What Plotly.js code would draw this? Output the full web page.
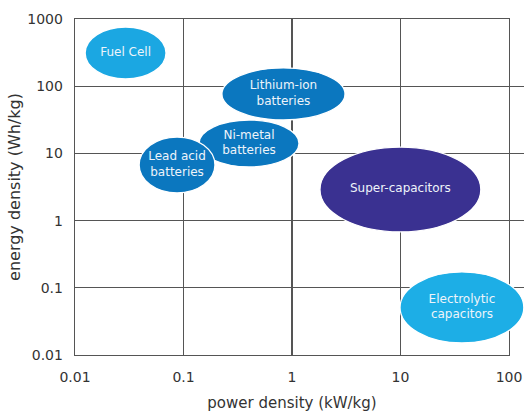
<!DOCTYPE html>
<html>
<head>
<meta charset="utf-8">
<script src="https://cdn.plot.ly/plotly-3.0.1.min.js"></script>
<style>html,body{margin:0;padding:0;background:#fff;}#chart{width:524px;height:415px;}</style>
</head>
<body>
<div id="chart"></div>
<script>
// Technologies (drawn in this order: later ones on top)
var technologies = ["Lithium-ion<br>batteries", "Ni-metal<br>batteries", "Lead acid<br>batteries", "Fuel Cell", "Super-capacitors", "Electrolytic<br>capacitors"];
// power density range (kW/kg)
var powerMin = [0.226, 0.139, 0.039, 0.0124, 1.81, 9.9];
var powerMax = [3.08, 1.16, 0.195, 0.069, 55, 137];
// energy density range (Wh/kg)
var energyMin = [31.4, 6.3, 2.58, 128, 0.68, 0.0151];
var energyMax = [187, 31.4, 17.5, 760, 12.4, 0.172];
var fillColors = ["#0b77bf", "#0b77bf", "#0b77bf", "#1ba7e2", "#3a3191", "#1daee6"];

var xTickVals = [0.01, 0.1, 1, 10, 100];
var xTickText = ["0.01", "0.1", "1", "10", "100"];
var yTickVals = [0.01, 0.1, 1, 10, 100, 1000];
var yTickText = ["0.01", "0.1", "1", "10", "100", "1000"];

var W = 524, H = 415;
var mL = 75, mR = 0, mT = 19, mB = 60;
var frameRight = 509; // right edge of framed grid in px
var xDomainEnd = (frameRight - mL) / (W - mL - mR);
var xRange2End = -2 + 4 / xDomainEnd;

var shapes = technologies.map(function (t, i) {
  return {
    type: "circle", xref: "x2", yref: "y", layer: "between",
    x0: powerMin[i], x1: powerMax[i], y0: energyMin[i], y1: energyMax[i],
    fillcolor: fillColors[i], line: {color: "#ffffff", width: 1.3}
  };
});

var labelX = technologies.map(function (t, i) { return Math.sqrt(powerMin[i] * powerMax[i]); });
var labelY = technologies.map(function (t, i) { return Math.sqrt(energyMin[i] * energyMax[i]); });

var data = [
  {type: "scatter", x: [], y: [], xaxis: "x", yaxis: "y", showlegend: false, hoverinfo: "skip"},
  {type: "scatter", mode: "text", x: labelX, y: labelY, text: technologies, xaxis: "x2", yaxis: "y",
   textposition: "middle center", cliponaxis: false,
   textfont: {family: "DejaVu Sans", size: 12, color: "#eef4fa"}, showlegend: false, hoverinfo: "skip"}
];

var gridColor = "#555555";
var layout = {
  width: W, height: H,
  margin: {l: mL, r: mR, t: mT, b: mB, pad: 0},
  paper_bgcolor: "#ffffff", plot_bgcolor: "rgba(0,0,0,0)",
  showlegend: false,
  font: {family: "DejaVu Sans", color: "#333333", size: 14},
  xaxis: {
    type: "log", domain: [0, xDomainEnd], range: [-2, 2], anchor: "y",
    tickvals: xTickVals, ticktext: xTickText, ticks: "",
    showgrid: true, gridcolor: gridColor, gridwidth: 1.3,
    showline: true, linecolor: gridColor, linewidth: 1.3, mirror: true,
    zeroline: false, ticklabelstandoff: 9,
    tickfont: {family: "DejaVu Sans", size: 14, color: "#333333"},
    title: {text: "power density (kW/kg)", font: {family: "DejaVu Sans", size: 15, color: "#333333"}, standoff: 13},
    automargin: false, fixedrange: true
  },
  xaxis2: {
    type: "log", domain: [0, 1], range: [-2, xRange2End], anchor: "y",
    visible: false, showgrid: false, zeroline: false, fixedrange: true
  },
  yaxis: {
    type: "log", range: [-2, 3], anchor: "x",
    tickvals: yTickVals, ticktext: yTickText, ticks: "",
    showgrid: true, gridcolor: gridColor, gridwidth: 1.3,
    showline: true, linecolor: gridColor, linewidth: 1.3, mirror: true,
    zeroline: false, ticklabelstandoff: 8,
    tickfont: {family: "DejaVu Sans", size: 14, color: "#333333"},
    title: {text: "energy density (Wh/kg)", font: {family: "DejaVu Sans", size: 16, color: "#333333"}, standoff: 2},
    automargin: false, fixedrange: true
  },
  shapes: shapes
};

Plotly.newPlot("chart", data, layout, {displayModeBar: false, staticPlot: true});
</script>
</body>
</html>
